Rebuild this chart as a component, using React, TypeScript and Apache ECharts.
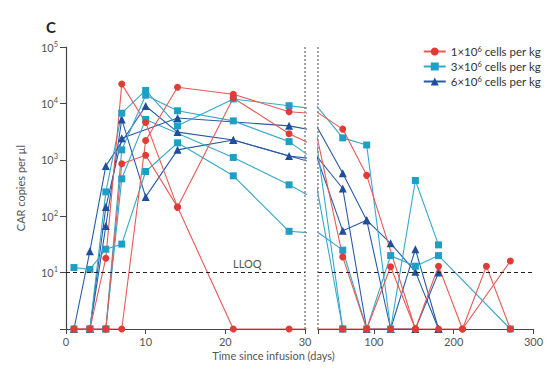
import React, { useEffect, useRef } from 'react';
import * as echarts from 'echarts';

// Values below the LLOQ are plotted on the axis floor (10^0)
const BLQ = 1;
const LLOQ = 10;
const BREAK_DAY = 30;

const LEFT_TICKS = [0, 10, 20, 30];
const RIGHT_TICKS = [30, 100, 200, 300];
const RIGHT_LABELS = [100, 200, 300];

// 1×10^6 cells per kg (red circles)
const RED_P1 = [[1, BLQ], [3, BLQ], [5, 18], [7, 22000], [10, 4600], [14, 145], [21, 12500], [28, 2900], [61, 19], [91, BLQ], [121, 12.7], [152, BLQ], [181, 13], [211, BLQ], [241, 13], [271, BLQ]];
const RED_P2 = [[1, BLQ], [3, BLQ], [5, BLQ], [7, 850], [10, 1200], [14, 145], [21, BLQ], [28, BLQ], [61, BLQ], [91, BLQ], [121, BLQ], [152, BLQ], [181, BLQ], [211, BLQ], [271, 16]];
const RED_P3 = [[5, BLQ], [7, BLQ], [10, 2200], [14, 19300], [21, 14500], [28, 7100], [61, 3500], [91, 530], [152, BLQ]];

// 3×10^6 cells per kg (cyan squares)
const CYAN_P1 = [[1, BLQ], [3, BLQ], [5, 270], [7, 6700], [10, 17000], [14, 4000], [21, 12000], [28, 9100], [61, 2450], [91, 1830], [121, BLQ], [152, 430], [181, 31]];
const CYAN_P2 = [[3, BLQ], [5, BLQ], [7, 1500], [10, 14000], [14, 7400], [21, 4900], [28, 2100], [61, BLQ]];
const CYAN_P3 = [[5, BLQ], [7, 460], [10, 5200], [21, 1100], [28, 360], [61, BLQ]];
const CYAN_P4 = [[1, 12.3], [3, 11.4], [5, 26], [7, 32], [10, 620], [14, 2000], [21, 520], [28, 54], [61, 25], [91, BLQ], [121, 20], [152, 13], [181, 20], [271, BLQ]];

// 6×10^6 cells per kg (dark blue triangles)
const DARK_P1 = [[1, BLQ], [3, 24], [5, 780], [10, 9000], [14, 3100], [21, 2240], [28, 1170], [61, 310], [91, BLQ], [121, BLQ], [152, BLQ], [181, 10]];
const DARK_P2 = [[3, BLQ], [5, 145], [7, 2400], [14, 5500], [28, 4000], [61, 580], [91, 85], [121, BLQ], [152, 26], [181, BLQ]];
const DARK_P3 = [[3, BLQ], [5, 67], [7, 5200], [10, 220], [14, 1500], [21, 2240], [61, 55], [91, 85], [121, 33], [152, 10.4], [181, BLQ]];

const NAME_1 = '1×10⁶ cells per kg';
const NAME_3 = '3×10⁶ cells per kg';
const NAME_6 = '6×10⁶ cells per kg';

const GROUPS = [
  { name: NAME_6, color: '#1f4f9a', line: '#2a5aa6', symbol: 'triangle', size: 8, patients: [DARK_P1, DARK_P2, DARK_P3] },
  { name: NAME_3, color: '#1ea0c6', line: '#33a9cc', symbol: 'rect', size: 7, patients: [CYAN_P1, CYAN_P2, CYAN_P3, CYAN_P4] },
  { name: NAME_1, color: '#e23b36', line: '#e65a55', symbol: 'circle', size: 7, patients: [RED_P1, RED_P2, RED_P3] },
];

const FONT = 'Lato';
const TEXT = '#555';
const AXIS = '#444';

export default function App() {
  const ref = useRef<HTMLDivElement>(null);

  useEffect(() => {
    document.body.style.margin = '0';
    const chart = echarts.init(ref.current as HTMLDivElement, null, { renderer: 'svg' });

    const series: any[] = [];
    GROUPS.forEach((g) => {
      g.patients.forEach((p) => {
        [0, 1].forEach((ax) => {
          series.push({
            type: 'line',
            name: g.name,
            xAxisIndex: ax,
            yAxisIndex: ax,
            data: p,
            symbol: g.symbol,
            symbolSize: g.size,
            clip: true,
            silent: true,
            lineStyle: { color: g.line, width: 1.1 },
            itemStyle: { color: g.color },
          });
        });
      });
    });
    [0, 1].forEach((ax) => {
      series.push({
        type: 'line',
        xAxisIndex: ax,
        yAxisIndex: ax,
        data: [],
        silent: true,
        markLine: {
          symbol: 'none',
          silent: true,
          label: { show: false },
          data: [
            { xAxis: BREAK_DAY, lineStyle: { type: [2, 2], color: '#8c8c8c', width: 1.6 } },
            { yAxis: LLOQ, lineStyle: { type: [4, 3], color: '#222', width: 1 } },
          ],
        },
      });
    });

    const axisLabelBase = { color: TEXT, fontSize: 11, fontFamily: FONT };

    chart.setOption({
      animation: false,
      grid: [
        { left: 66, top: 47, width: 239, height: 282 },
        { left: 318, top: 47, width: 215.5, height: 282 },
      ],
      legend: {
        data: [NAME_1, NAME_3, NAME_6],
        orient: 'vertical',
        right: 1,
        top: 40,
        itemWidth: 22,
        itemHeight: 10,
        itemGap: 2,
        textStyle: {
          fontFamily: FONT,
          fontSize: 11.5,
          color: '#333',
          lineHeight: 13,
          rich: { s: { fontFamily: FONT, fontSize: 7.5, verticalAlign: 'top', color: '#333' } },
        },
        formatter: (n: string) => n.replace('⁶', '{s|6}'),
      },
      xAxis: [
        {
          gridIndex: 0,
          type: 'value',
          min: 0,
          max: 30,
          splitLine: { show: false },
          axisLine: { show: true, onZero: false, lineStyle: { color: AXIS, width: 1.2 } },
          axisTick: { show: true, length: 5, customValues: LEFT_TICKS, lineStyle: { color: AXIS } },
          axisLabel: { ...axisLabelBase, margin: 7, customValues: LEFT_TICKS },
        },
        {
          gridIndex: 1,
          type: 'value',
          min: 30,
          max: 300,
          splitLine: { show: false },
          axisLine: { show: true, onZero: false, lineStyle: { color: AXIS, width: 1.2 } },
          axisTick: { show: true, length: 5, customValues: RIGHT_TICKS, lineStyle: { color: AXIS } },
          axisLabel: { ...axisLabelBase, margin: 7, customValues: RIGHT_LABELS },
        },
      ],
      yAxis: [
        {
          gridIndex: 0,
          type: 'log',
          logBase: 10,
          min: 1,
          max: 100000,
          splitLine: { show: false },
          axisLine: { show: true, lineStyle: { color: AXIS, width: 1.2 } },
          axisTick: { show: true, length: 6, lineStyle: { color: AXIS } },
          axisLabel: {
            ...axisLabelBase,
            margin: 8,
            lineHeight: 14,
            formatter: (v: number) => (v <= 1 ? '' : '10{s|' + Math.round(Math.log10(v)) + '}'),
            rich: { s: { fontFamily: FONT, fontSize: 7.5, color: TEXT, verticalAlign: 'top' } },
          },
          name: 'CAR copies per µl',
          nameLocation: 'middle',
          nameGap: 40,
          nameTextStyle: { color: TEXT, fontSize: 11, fontFamily: FONT },
        },
        {
          gridIndex: 1,
          type: 'log',
          logBase: 10,
          min: 1,
          max: 100000,
          show: false,
        },
      ],
      graphic: [
        { type: 'text', left: 46, top: 19, style: { text: 'C', fontSize: 15, fontFamily: FONT, fill: '#222', fontWeight: 'bold' } },
        { type: 'text', left: 233, top: 258, style: { text: 'LLOQ', fontSize: 11, fontFamily: FONT, fill: TEXT } },
        { type: 'text', left: 'center', top: 350, style: { text: 'Time since infusion (days)', fontSize: 11, fontFamily: FONT, fill: TEXT } },
      ],
      series,
    });

    return () => chart.dispose();
  }, []);

  return <div ref={ref} style={{ width: 547, height: 374 }} />;
}
